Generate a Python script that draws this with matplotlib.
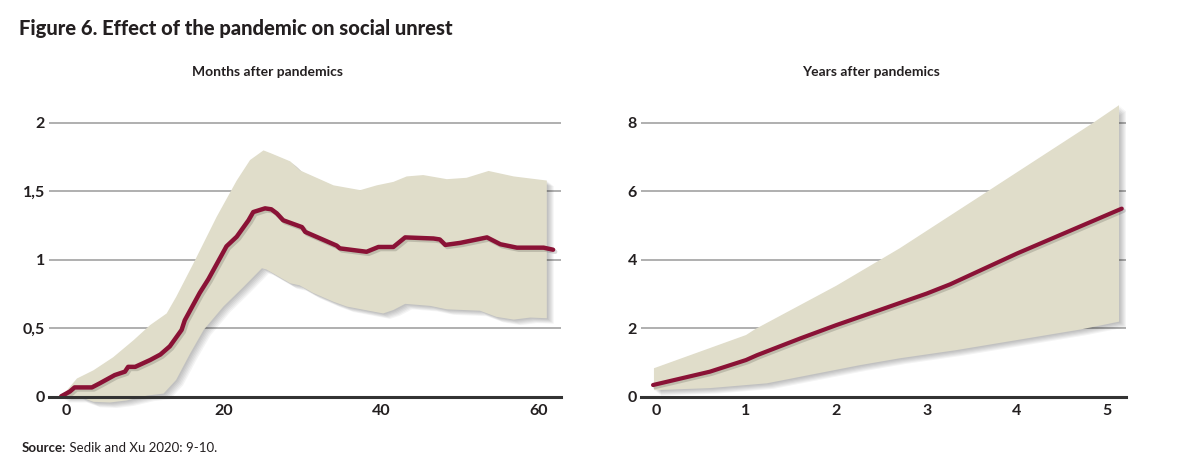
import matplotlib
matplotlib.use("Agg")
import matplotlib.pyplot as plt
import matplotlib.patheffects as pe

plt.rcParams['font.family'] = ['Lato', 'DejaVu Sans']

# months panel
m_x = [-0.7, 0.4, 1.0, 3.2, 4.2, 6.1, 7.4, 7.8, 8.7, 10.6, 11.9, 13.1, 14.6, 15.0, 16.9, 18.0,
       20.3, 21.6, 23.1, 23.7, 25.2, 26.0, 26.7, 27.5, 29.9, 30.3, 34.3, 34.7, 38.1, 39.6,
       41.5, 43.0, 46.6, 47.4, 48.1, 50.0, 53.4, 55.1, 57.2, 60.6, 61.8]
m_y = [0.005, 0.04, 0.07, 0.07, 0.10, 0.16, 0.185, 0.22, 0.22, 0.27, 0.31, 0.37, 0.49, 0.56, 0.76, 0.86,
       1.10, 1.17, 1.29, 1.35, 1.377, 1.37, 1.34, 1.29, 1.24, 1.205, 1.105, 1.085, 1.06, 1.095,
       1.095, 1.165, 1.157, 1.15, 1.11, 1.125, 1.165, 1.115, 1.09, 1.09, 1.075]

m_up_x = [-0.7, 1.3, 3.4, 5.9, 8.5, 10.6, 12.7, 13.9, 16.1, 19.05, 21.6, 23.3, 25.0, 25.9, 28.4,
          29.6, 33.9, 37.3, 39.4, 41.5, 43.2, 45.3, 48.3, 50.8, 53.6, 56.8, 61.0]
m_up = [0.0, 0.135, 0.195, 0.29, 0.415, 0.525, 0.61, 0.73, 0.975, 1.315, 1.58, 1.73, 1.80, 1.78, 1.72,
        1.655, 1.545, 1.51, 1.545, 1.57, 1.61, 1.62, 1.59, 1.60, 1.65, 1.61, 1.58]
m_lo_x = [-0.7, 1.7, 3.4, 5.5, 7.6, 10.2, 12.3, 13.9, 15.7, 17.4, 19.9, 22.4, 24.8, 25.4,
          28.4, 29.6, 31.3, 33.9, 35.6, 40.2, 41.5, 43.0, 46.2, 48.3, 52.5, 54.6, 56.8, 58.9, 61.0]
m_lo = [0.0, 0.0, -0.035, -0.04, -0.025, 0.01, 0.025, 0.125, 0.32, 0.49, 0.66, 0.80, 0.94, 0.93,
        0.83, 0.815, 0.76, 0.695, 0.66, 0.61, 0.635, 0.68, 0.665, 0.64, 0.63, 0.585, 0.565, 0.58, 0.575]

# years panel
y_x = [-0.03, 0.6, 1.0, 1.12, 1.6, 2.0, 2.48, 3.0, 3.26, 4.0, 5.16]
y_y = [0.35, 0.74, 1.08, 1.22, 1.71, 2.1, 2.54, 3.02, 3.29, 4.19, 5.5]
y_up_x = [-0.02, 1.0, 1.1, 2.0, 2.7, 3.66, 4.84, 5.13]
y_up = [0.84, 1.81, 1.98, 3.25, 4.34, 5.98, 8.0, 8.52]
y_lo_x = [-0.02, 0.6, 1.23, 2.26, 2.7, 3.33, 4.7, 5.13]
y_lo = [0.2, 0.26, 0.4, 0.93, 1.13, 1.37, 1.97, 2.2]

band_col = '#e0ddca'
line_col = '#8a1236'
grid_col = '#9a9a9a'
txt_col = '#231f20'

fig = plt.figure(figsize=(11.81, 4.67), dpi=100)
ax1 = fig.add_axes([0.0415, 0.1499, 0.4335, 0.6454])
ax2 = fig.add_axes([0.5428, 0.1499, 0.4107, 0.6454])

# soft drop shadow: stack of offset copies
shadow = [pe.SimplePatchShadow(offset=(d, -d * 0.8), shadow_rgbFace='k', alpha=0.045)
          for d in (1, 1.8, 2.6, 3.4, 4.2, 5.0)]
lshadow = [pe.SimpleLineShadow(offset=(1.5, -1.5), shadow_color='k', alpha=0.15), pe.Normal()]


def setup(ax, xlim, ylim, yticks, ylabels, xticks):
    ax.set_xlim(xlim)
    ax.set_ylim(ylim)
    for s in ('left', 'right', 'top'):
        ax.spines[s].set_visible(False)
    ax.spines['bottom'].set_color('#333333')
    ax.spines['bottom'].set_linewidth(2.2)
    ax.spines['bottom'].set_zorder(5)
    for yv in yticks[1:]:
        ax.axhline(yv, color=grid_col, lw=1.1, zorder=0)
    ax.set_yticks(yticks)
    ax.set_yticklabels(ylabels)
    ax.set_xticks(xticks)
    ax.tick_params(length=0, labelsize=11.5, colors=txt_col)
    ax.tick_params(axis='y', pad=3)
    ax.tick_params(axis='x', pad=5)
    for lab in ax.get_xticklabels() + ax.get_yticklabels():
        lab.set_fontweight('bold')


setup(ax1, (-2.25, 62.8), (0, 2.2), [0, 0.5, 1, 1.5, 2], ['0', '0,5', '1', '1,5', '2'], [0, 20, 40, 60])
setup(ax2, (-0.163, 5.208), (0, 8.8), [0, 2, 4, 6, 8], ['0', '2', '4', '6', '8'], [0, 1, 2, 3, 4, 5])

# bands: closed polygons from upper and lower edges
ax1.fill(m_up_x + m_lo_x[::-1], m_up + m_lo[::-1], color=band_col, lw=0, zorder=2,
         clip_on=False, path_effects=shadow + [pe.Normal()])
ax2.fill(y_up_x + y_lo_x[::-1], y_up + y_lo[::-1], color=band_col, lw=0, zorder=2,
         clip_on=False, path_effects=shadow + [pe.Normal()])

ax1.plot(m_x, m_y, color=line_col, lw=3.2, zorder=4, solid_capstyle='round', path_effects=lshadow)
ax2.plot(y_x, y_y, color=line_col, lw=3.0, zorder=4, solid_capstyle='round', path_effects=lshadow)

fig.text(0.2265, 0.846, 'Months after pandemics', ha='center', va='center',
         fontsize=10, fontweight='bold', color=txt_col)
fig.text(0.7375, 0.846, 'Years after pandemics', ha='center', va='center',
         fontsize=10, fontweight='bold', color=txt_col)

fig.text(0.016, 0.94, 'Figure 6. Effect of the pandemic on social unrest', ha='left', va='center',
         fontsize=14.5, fontweight='black', color=txt_col)

src = fig.text(0.0186, 0.04, 'Source:', ha='left', va='center', fontsize=9.5,
               fontweight='bold', color=txt_col)
plt.annotate(' Sedik and Xu 2020: 9-10.', xy=(1, 0), xycoords=src, va='bottom', ha='left',
             fontsize=9.5, color=txt_col, annotation_clip=False)

fig.savefig('out.png', dpi=100)
